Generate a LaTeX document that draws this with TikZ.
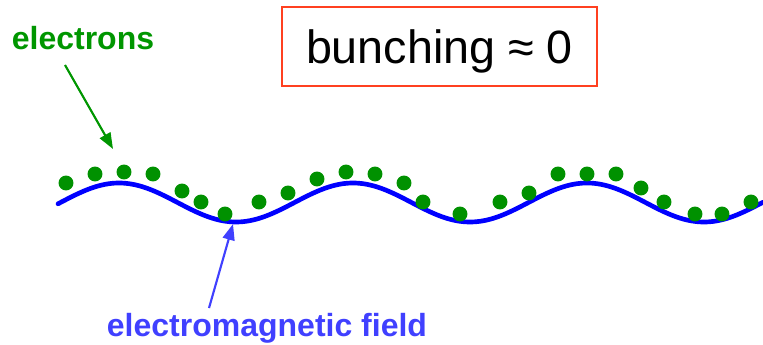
\documentclass[tikz,border=0pt]{standalone}
\usepackage{fontspec}
\setmainfont{Liberation Sans}
\usepackage{xcolor}
\usepackage{tikz}
\usetikzlibrary{arrows.meta}
\definecolor{dotgreen}{RGB}{0,145,0}
\definecolor{labelgreen}{RGB}{0,150,0}
\definecolor{fieldblue}{RGB}{0,0,255}
\definecolor{labelblue}{RGB}{64,64,255}
\definecolor{boxred}{RGB}{255,64,32}
\def\wavemid{202.5}
\def\waveamp{19.5}
\def\waveper{234}
\def\wavecrest{119}

\begin{document}
\begin{tikzpicture}[x=0.75pt, y=-0.75pt,
		tag/.style={font=\fontsize{24}{26}\selectfont\bfseries, inner sep=0pt, anchor=base},
		pointer/.style={line width=1.6pt, -{Triangle[length=12pt,width=9pt]}},
		electron/.style={fill=dotgreen, draw=none}]
		\useasboundingbox (0,0) rectangle (763,345);
		% title box
		\node[draw=boxred, line width=1.1pt, minimum width=236pt, minimum height=59pt,
			text height=27pt, text depth=2pt, inner sep=0pt,
			font=\fontsize{35}{40}\selectfont] (bunch) at (439.5,46.5) {bunching ≈ 0};
		% field
		\draw[fieldblue, line width=3.5pt, line cap=round]
			plot[domain=58:763, samples=240] (\x, {\wavemid-\waveamp*cos((\x-\wavecrest)/\waveper*360)});
		% electrons
		\foreach \ex/\ey in {66/183, 95/174, 124/172, 153/174, 182/191, 201/202, 225/214,
			259/202, 288/193, 317/179, 346/172, 375/174, 404/183, 423/202, 460/214,
			500/202, 529/193, 558/174, 587/174, 616/174, 641/188, 664/202, 695/214,
			722/214, 751/202}
			\fill[electron] (\ex,\ey) circle[radius=5.6pt];
		% labels
		\node[tag, text=labelgreen] (electrons) at (83,50) {electrons};
		\node[tag, text=labelblue] (emfield) at (267,336) {electromagnetic field};
		\coordinate (etip) at (113,149);
		\coordinate (ftip) at (233,224);
		\draw[pointer, labelgreen] ([shift={(-18,15)}]electrons.base) -- (etip);
		\draw[pointer, labelblue] ([shift={(-58,-28)}]emfield.base) -- (ftip);
	\end{tikzpicture}
\end{document}
